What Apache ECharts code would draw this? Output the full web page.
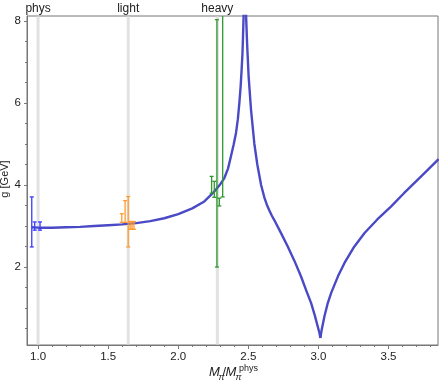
<!DOCTYPE html>
<html>
<head>
<meta charset="utf-8">
<title>g vs M_pi</title>
<script src="https://cdn.jsdelivr.net/npm/echarts@6/dist/echarts.min.js"></script>
<style>
  html, body { margin: 0; padding: 0; background: #fff; }
  #chart { width: 439px; height: 382px; }
</style>
</head>
<body>
<div id="chart"></div>
<script>
// curve, left of the pole (x = M_pi / M_pi^phys, y = g in GeV)
var curveLeftX = [0.955, 1.0, 1.1, 1.2, 1.3, 1.4, 1.5, 1.6, 1.7, 1.8, 1.9, 2.0, 2.1, 2.186, 2.257, 2.30, 2.329, 2.355, 2.376, 2.395, 2.412, 2.425, 2.436, 2.445, 2.452, 2.458, 2.462, 2.466, 2.470];
var curveLeftY = [2.97, 2.96, 2.96, 2.97, 2.98, 3.00, 3.02, 3.04, 3.07, 3.12, 3.19, 3.29, 3.43, 3.60, 3.84, 4.02, 4.17, 4.40, 4.70, 4.98, 5.27, 5.60, 6.00, 6.40, 6.81, 7.20, 7.62, 8.11, 9.0];
// curve, from the pole down to the dip
var curveMidX = [2.481, 2.484, 2.491, 2.502, 2.519, 2.543, 2.564, 2.591, 2.614, 2.632, 2.65, 2.668, 2.686, 2.736, 2.781, 2.829, 2.876, 2.914, 2.948, 2.975, 2.995, 3.007, 3.014];
var curveMidY = [9.0, 8.11, 7.46, 6.65, 5.84, 5.00, 4.50, 4.00, 3.70, 3.52, 3.38, 3.25, 3.14, 2.81, 2.50, 2.15, 1.77, 1.42, 1.12, 0.81, 0.55, 0.40, 0.27];
// curve, from the dip to the right edge
var curveRightX = [3.014, 3.022, 3.043, 3.065, 3.091, 3.14, 3.186, 3.25, 3.329, 3.42, 3.519, 3.61, 3.709, 3.78, 3.857];
var curveRightY = [0.27, 0.45, 0.80, 1.10, 1.37, 1.78, 2.10, 2.47, 2.83, 3.16, 3.48, 3.80, 4.13, 4.37, 4.63];

// lattice points: x, lower and upper end of the error bar
var physX = [0.955, 0.976, 1.014];
var physLo = [2.49, 2.90, 2.90];
var physHi = [3.71, 3.10, 3.10];

var lightX = [1.597, 1.621, 1.643, 1.657, 1.670, 1.684];
var lightLo = [3.09, 3.09, 2.49, 2.92, 2.92, 2.92];
var lightHi = [3.30, 3.62, 3.72, 3.11, 3.11, 3.11];

var heavyX = [2.238, 2.257, 2.276, 2.293, 2.317];
var heavyLo = [3.80, 3.70, 2.00, 3.49, 3.71];
var heavyHi = [4.21, 4.09, 8.03, 3.68, 8.60];

// vertical markers at the three pion masses
var bandNames = ['phys', 'light', 'heavy'];
var bandX = [1.0, 1.643, 2.279];

var xTicksMajor = [1.0, 1.5, 2.0, 2.5, 3.0, 3.5];
var xTicksMinor = [];
for (var t = 10; t <= 38; t++) { if (t % 5 !== 0) xTicksMinor.push(t / 10); }
var yTicksMajor = [2, 4, 6, 8];
var yTicksMinor = [0.5, 1, 1.5, 2.5, 3, 3.5, 4.5, 5, 5.5, 6.5, 7, 7.5];

var X_MIN = 0.921, X_MAX = 3.853, Y_MIN = 0.1, Y_MAX = 8.12;
var FONT = 'Liberation Sans';
var CURVE = '#4a4ac6';

function zip(a, b, c) {
  var out = [];
  for (var i = 0; i < a.length; i++) out.push(c ? [a[i], b[i], c[i]] : [a[i], b[i]]);
  return out;
}

function errorBars(color) {
  return function (params, api) {
    var x = api.value(0);
    var p1 = api.coord([x, api.value(1)]);
    var p2 = api.coord([x, api.value(2)]);
    var w = 2;
    var st = { stroke: color, lineWidth: 1.3 };
    return {
      type: 'group',
      children: [
        { type: 'line', shape: { x1: p1[0], y1: p1[1], x2: p2[0], y2: p2[1] }, style: st },
        { type: 'line', shape: { x1: p1[0] - w, y1: p1[1], x2: p1[0] + w, y2: p1[1] }, style: st },
        { type: 'line', shape: { x1: p2[0] - w, y1: p2[1], x2: p2[0] + w, y2: p2[1] }, style: st }
      ]
    };
  };
}

function curveSeries(name, xs, ys) {
  return {
    type: 'line', name: name, z: 3, clip: true, showSymbol: false, symbol: 'none',
    data: zip(xs, ys),
    lineStyle: { color: CURVE, width: 2.4, join: 'round' }
  };
}

var chart = echarts.init(document.getElementById('chart'));

chart.setOption({
  animation: false,
  grid: { left: 27, right: 1, top: 16, bottom: 37, outerBoundsMode: 'none', containLabel: false,
    show: true, borderColor: '#777', borderWidth: 1 },
  xAxis: [{
    type: 'value', min: X_MIN, max: X_MAX,
    axisLine: { show: true, onZero: false, lineStyle: { color: '#777' } },
    splitLine: { show: false },
    axisTick: { show: true, customValues: xTicksMajor, length: 4, lineStyle: { color: '#777' } },
    axisLabel: { customValues: xTicksMajor, margin: 6, color: '#222', fontFamily: FONT, fontSize: 11.5,
      formatter: function (v) { return v.toFixed(1); } }
  }, {
    type: 'value', min: X_MIN, max: X_MAX, position: 'bottom',
    axisLine: { show: false }, splitLine: { show: false },
    axisTick: { show: true, customValues: xTicksMinor, length: 2, lineStyle: { color: '#777' } },
    axisLabel: { show: false }
  }],
  yAxis: [{
    type: 'value', min: Y_MIN, max: Y_MAX,
    axisLine: { show: true, onZero: false, lineStyle: { color: '#777' } },
    splitLine: { show: false },
    axisTick: { show: true, customValues: yTicksMajor, length: 3, lineStyle: { color: '#777' } },
    axisLabel: { customValues: yTicksMajor, margin: 6, color: '#222', fontFamily: FONT, fontSize: 11.5 }
  }, {
    type: 'value', min: Y_MIN, max: Y_MAX, position: 'left',
    axisLine: { show: false }, splitLine: { show: false },
    axisTick: { show: true, customValues: yTicksMinor, length: 2, lineStyle: { color: '#777' } },
    axisLabel: { show: false }
  }],
  graphic: [
    // y axis title, rotated
    { type: 'text', x: 5, y: 179, rotation: Math.PI / 2,
      style: { text: 'g [GeV]', font: '11px ' + FONT, fill: '#222', textAlign: 'center', textVerticalAlign: 'middle' } },
    // x axis title: M_pi / M_pi^phys
    { type: 'text', left: 209, top: 366, style: { text: 'M', font: 'italic 13px ' + FONT, fill: '#222' } },
    { type: 'text', left: 218.5, top: 373, style: { text: 'π', font: 'italic 9px ' + FONT, fill: '#222' } },
    { type: 'text', left: 222.5, top: 366, style: { text: '/', font: '13px ' + FONT, fill: '#222' } },
    { type: 'text', left: 225.5, top: 366, style: { text: 'M', font: 'italic 13px ' + FONT, fill: '#222' } },
    { type: 'text', left: 235.5, top: 373, style: { text: 'π', font: 'italic 9px ' + FONT, fill: '#222' } },
    { type: 'text', left: 239, top: 364, style: { text: 'phys', font: '9px ' + FONT, fill: '#222' } }
  ],
  series: [{
    type: 'custom', name: 'bands', z: 1, clip: false,
    data: zip(bandX, bandNames),
    renderItem: function (params, api) {
      var x = api.value(0);
      var lo = api.coord([x, Y_MIN]);
      var hi = api.coord([x, Y_MAX]);
      return {
        type: 'group',
        children: [
          { type: 'line', shape: { x1: lo[0], y1: lo[1] - 0.5, x2: hi[0], y2: hi[1] + 0.5 },
            style: { stroke: '#e2e2e2', lineWidth: 3 } },
          { type: 'text', x: hi[0], y: hi[1] - 1,
            style: { text: bandNames[params.dataIndex], fill: '#222', font: '12px ' + FONT,
              textAlign: 'center', textVerticalAlign: 'bottom' } }
        ]
      };
    }
  },
    curveSeries('fit', curveLeftX, curveLeftY),
    curveSeries('fit2', curveMidX, curveMidY),
    curveSeries('fit3', curveRightX, curveRightY),
  {
    type: 'custom', name: 'phys', z: 4, clip: true,
    data: zip(physX, physLo, physHi), renderItem: errorBars('#3a3aff')
  }, {
    type: 'custom', name: 'light', z: 4, clip: true,
    data: zip(lightX, lightLo, lightHi), renderItem: errorBars('#ff9a30')
  }, {
    type: 'custom', name: 'heavy', z: 4, clip: true,
    data: zip(heavyX, heavyLo, heavyHi), renderItem: errorBars('#2e9a2e')
  }]
});
</script>
</body>
</html>
